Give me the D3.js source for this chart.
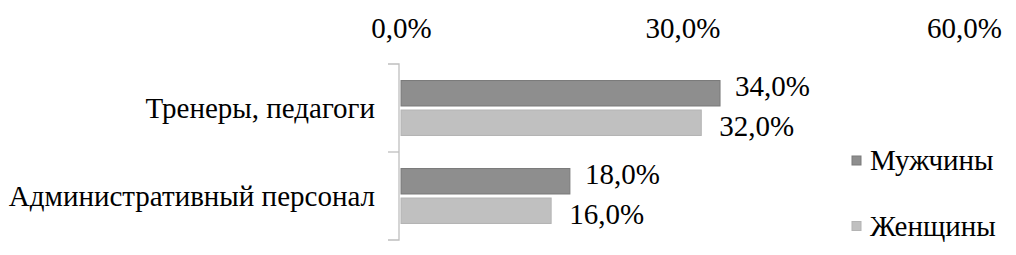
<!DOCTYPE html>
<html>
<head>
<meta charset="utf-8">
<script src="https://cdn.jsdelivr.net/npm/d3@7"></script>
<style>
  body { margin: 0; background: #fff; }
</style>
</head>
<body>
<div id="chart"></div>
<script>
/* DATA */
const categories = ["Тренеры, педагоги", "Административный персонал"];
const seriesNames = ["Мужчины", "Женщины"];
const men = [34.0, 18.0];
const women = [32.0, 16.0];
const ticks = [0, 30, 60];

const width = 1016, height = 255;
const serif = "Liberation Serif";
const colors = { "Мужчины": "#8e8e8e", "Женщины": "#c0c0c0" };
const strokes = { "Мужчины": "#7a7a7a", "Женщины": "#b4b4b4" };

const fmt = v => d3.format(".1f")(v).replace(".", ",") + "%";

const svg = d3.select("#chart").append("svg")
  .attr("width", width)
  .attr("height", height)
  .attr("font-family", serif)
  .attr("font-size", 29);

// scales
const x = d3.scaleLinear().domain([0, 60]).range([401, 964]);
const y = d3.scaleBand().domain(categories).range([64, 240]);
const sub = d3.scaleBand().domain(seriesNames).range([0, y.bandwidth()]).paddingInner(0.136).paddingOuter(0.56);

// top axis, labels only
const xAxis = d3.axisTop(x).tickValues(ticks).tickFormat(fmt).tickSize(0);
svg.append("g")
  .attr("transform", "translate(0,38)")
  .call(xAxis)
  .attr("font-family", serif)
  .attr("font-size", 29)
  .call(g => g.select(".domain").remove())
  .call(g => g.selectAll("text")
    .attr("dy", 0)
    .attr("y", 0)
    .attr("fill", "#000"));

// category axis (left bracket)
const yAxis = d3.axisLeft(y).tickSize(0).tickFormat("");
const yg = svg.append("g").attr("transform", "translate(399,0)").call(yAxis);
yg.select(".domain").attr("stroke", "#bfbfbf").attr("stroke-width", 1.3)
  .attr("d", `M-11,${y.range()[0]}H0V${y.range()[1]}H-11`);
yg.selectAll(".sep").data(categories.slice(1)).join("line")
  .attr("class", "sep")
  .attr("x1", -11).attr("x2", 0)
  .attr("y1", d => y(d)).attr("y2", d => y(d))
  .attr("stroke", "#bfbfbf").attr("stroke-width", 1.3);

svg.selectAll(".cat").data(categories).join("text")
  .attr("class", "cat")
  .attr("x", 375)
  .attr("y", d => y(d) + y.bandwidth() / 2 + 10)
  .attr("text-anchor", "end")
  .text(d => d);

// bars
const rows = [];
categories.forEach((c, i) => {
  rows.push({ cat: c, series: "Мужчины", value: men[i] });
  rows.push({ cat: c, series: "Женщины", value: women[i] });
});

svg.selectAll(".bar").data(rows).join("rect")
  .attr("class", "bar")
  .attr("x", x(0))
  .attr("y", d => y(d.cat) + sub(d.series))
  .attr("width", d => x(d.value) - x(0))
  .attr("height", sub.bandwidth())
  .attr("fill", d => colors[d.series])
  .attr("stroke", d => strokes[d.series])
  .attr("stroke-width", 1);

svg.selectAll(".lbl").data(rows).join("text")
  .attr("class", "lbl")
  .attr("x", d => x(d.value) + (d.series === "Мужчины" ? 15 : 18))
  .attr("y", d => y(d.cat) + sub(d.series) + sub.bandwidth() / 2 + (d.series === "Мужчины" ? 3 : 13))
  .text(d => fmt(d.value));

// legend
const legend = svg.selectAll(".leg").data(seriesNames).join("g")
  .attr("class", "leg")
  .attr("transform", (d, i) => `translate(852,${156 + i * 65.5})`);
legend.append("rect")
  .attr("width", 9).attr("height", 9)
  .attr("fill", d => colors[d])
  .attr("stroke", d => strokes[d]);
legend.append("text")
  .attr("x", 18).attr("y", 14)
  .text(d => d);
</script>
</body>
</html>
